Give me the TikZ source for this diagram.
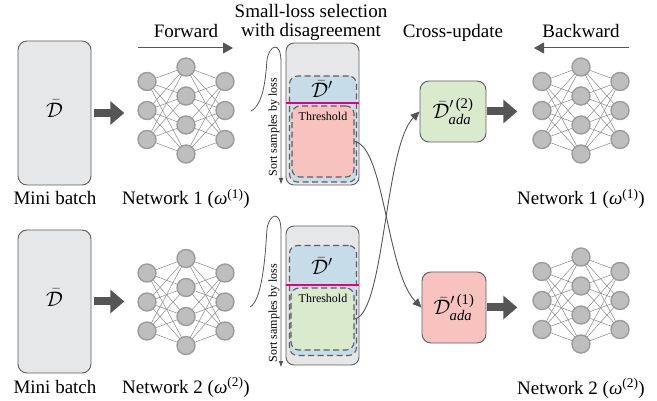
\RequirePackage{fix-cm}
\documentclass[tikz,border=0pt]{standalone}
\usepackage{amsmath}
\usepackage{fontspec}
\setmainfont{Liberation Serif}
\usetikzlibrary{arrows.meta}
\pgfdeclarelayer{bg}
\pgfsetlayers{bg,main}

\definecolor{boxgray}{HTML}{E6E7E9}
\definecolor{linegray}{HTML}{5E5E5E}
\definecolor{arrowgray}{HTML}{555555}
\definecolor{neurfill}{HTML}{BEBEBE}
\definecolor{neurline}{HTML}{9C9C9C}
\definecolor{edgegray}{HTML}{8A8A8A}
\definecolor{poolblue}{HTML}{C7DCE9}
\definecolor{keeppink}{HTML}{F8C3BE}
\definecolor{keepgreen}{HTML}{D9EACD}
\definecolor{cutline}{HTML}{E4007F}

\tikzset{
  lbl/.style={font=\fontsize{19}{19}\selectfont, inner sep=0pt},
  mathlbl/.style={font=\fontsize{21}{21}\selectfont, inner sep=0pt},
  small/.style={font=\fontsize{12}{12}\selectfont, inner sep=0pt},
  batchbox/.style={draw=linegray, fill=boxgray, rounded corners=9pt, line width=0.9pt, inner sep=0pt},
  adabox/.style={draw=linegray, rounded corners=9pt, line width=0.9pt, inner sep=0pt,
    font=\fontsize{21}{21}\selectfont},
  poolbox/.style={draw=linegray, fill=poolblue, dash pattern=on 6pt off 3.5pt,
    line width=1.1pt, rounded corners=8pt, inner sep=0pt},
  neuron/.style={circle, draw=neurline, fill=neurfill, line width=1.4pt, minimum size=18pt, inner sep=0pt},
  synapse/.style={draw=edgegray, line width=0.5pt},
  fatarrow/.style={draw=arrowgray, line width=8pt, -{Triangle[length=14pt,width=23pt]}},
  thinarrow/.style={draw=arrowgray, line width=1pt, -{Triangle[length=10pt,width=11pt]}},
  crossarrow/.style={draw=arrowgray, line width=0.9pt, -{Triangle[length=9pt,width=8pt]}},
  sortarrow/.style={draw=arrowgray, line width=0.8pt, -{Triangle[length=6pt,width=4pt]}},
  threshold/.style={draw=cutline, line width=2pt},
}

% three-four-three fully connected network, centred at (#2,#3)
\newcommand{\mlpnet}[3]{%
  \foreach \i/\dy in {1/-29,2/0,3/29} {
    \node[neuron] (#1-l\i) at ({#2-39},{#3+(\dy)}) {};
    \node[neuron] (#1-r\i) at ({#2+39},{#3+(\dy)}) {};
  }
  \foreach \i/\dy in {1/-43.5,2/-14.5,3/14.5,4/43.5} {
    \node[neuron] (#1-m\i) at ({#2},{#3+(\dy)}) {};
  }
  \begin{pgfonlayer}{bg}
    \foreach \a in {1,2,3} {
      \foreach \b in {1,2,3,4} {
        \draw[synapse] (#1-l\a.center) -- (#1-m\b.center);
        \draw[synapse] (#1-m\b.center) -- (#1-r\a.center);
      }
    }
  \end{pgfonlayer}
}

\begin{document}
\begin{tikzpicture}[x=1pt,y=-1pt]
\useasboundingbox (0,0) rectangle (657,401);

% ---------- headings ----------
\node[lbl, anchor=base] (fwdtxt) at (186,38) {Forward};
\node[lbl, anchor=base] (seltxt1) at (311,18) {Small-loss selection};
\node[lbl, anchor=base] (seltxt2) at (311,37) {with disagreement};
\node[lbl, anchor=base] (crosstxt) at (453,38) {Cross-update};
\node[lbl, anchor=base] (bwdtxt) at (581,38) {Backward};
\coordinate (fwdS) at (138,48);
\coordinate (fwdE) at (233,48);
\coordinate (bwdS) at (629,48);
\coordinate (bwdE) at (534,48);
\draw[thinarrow] (fwdS) -- (fwdE);
\draw[thinarrow] (bwdS) -- (bwdE);

% ---------- mini batches ----------
\node[batchbox, minimum width=73pt, minimum height=144pt] (mb1) at (54.5,113) {};
\node[batchbox, minimum width=73pt, minimum height=143pt] (mb2) at (54.5,301.5) {};
\node[mathlbl] (mbd1) at (54.5,108.5) {$\bar{\mathcal{D}}$};
\node[mathlbl] (mbd2) at (54.5,297.5) {$\bar{\mathcal{D}}$};
\node[lbl, anchor=base] (mbt1) at (55,205) {Mini batch};
\node[lbl, anchor=base] (mbt2) at (55,393) {Mini batch};

% ---------- networks ----------
\mlpnet{na}{186}{110.5}
\mlpnet{nb}{186}{302}
\mlpnet{nc}{581}{110.5}
\mlpnet{nd}{581}{300.5}
\node[lbl, anchor=base] (nat) at (186,205) {Network 1 (\textit{ω}\textsuperscript{(1)})};
\node[lbl, anchor=base] (nbt) at (186,393) {Network 2 (\textit{ω}\textsuperscript{(2)})};
\node[lbl, anchor=base] (nct) at (581,205) {Network 1 (\textit{ω}\textsuperscript{(1)})};
\node[lbl, anchor=base] (ndt) at (581,394) {Network 2 (\textit{ω}\textsuperscript{(2)})};

\draw[fatarrow, shorten <=3pt, shorten >=13pt] (mb1.east) -- (mb1.east -| na-l2.west);
\draw[fatarrow, shorten <=3pt, shorten >=13pt] (mb2.east) -- (mb2.east -| nb-l2.west);

% ---------- small-loss selection, network 1 ----------
\node[batchbox, rounded corners=8pt, minimum width=73pt, minimum height=142pt] (sel1) at (322.5,114) {};
\node[poolbox, minimum width=67pt, minimum height=106pt] (pool1) at (323,129) {};
\node[poolbox, fill=keeppink, minimum width=62pt, minimum height=71pt] (keep1) at (323,141.5) {};
\coordinate (cut1) at (322.5,103);
\draw[threshold] (cut1 -| sel1.west) -- (cut1 -| sel1.east);
\node[mathlbl] (pd1) at (322,89) {$\bar{\mathcal{D}}'$};
\node[small, anchor=base] (thr1) at (323,121) {Threshold};
\coordinate (sortA1) at (251,111);
\coordinate (sortB1) at (281,184);
\draw[sortarrow] (sortA1) .. controls (265,104) and (266,70) .. (267,60)
  .. controls (269,45) and (281,40) .. (281,62) -- (sortB1);
\node[small, rotate=90] (sortt1) at (274,127) {Sort samples by loss};

% ---------- small-loss selection, network 2 ----------
\node[batchbox, rounded corners=8pt, minimum width=73pt, minimum height=139pt] (sel2) at (322.5,295.5) {};
\node[poolbox, minimum width=67pt, minimum height=110pt] (pool2) at (323,300.5) {};
\node[poolbox, fill=keepgreen, minimum width=63pt, minimum height=62pt] (keep2) at (322.5,319) {};
\coordinate (cut2) at (322.5,285);
\draw[threshold] (cut2 -| sel2.west) -- (cut2 -| sel2.east);
\node[mathlbl] (pd2) at (322,266) {$\bar{\mathcal{D}}'$};
\node[small, anchor=base] (thr2) at (323,302) {Threshold};
\coordinate (sortA2) at (250,307);
\coordinate (sortB2) at (281,367);
\draw[sortarrow] (sortA2) .. controls (264,300) and (266,240) .. (267,229)
  .. controls (269,214) and (281,209) .. (281,231) -- (sortB2);
\node[small, rotate=90] (sortt2) at (274,313) {Sort samples by loss};

% ---------- cross-update ----------
\node[adabox, fill=keepgreen, minimum width=66pt, minimum height=61pt] (ada2) at (453,111.5)
  {$\bar{\mathcal{D}}'^{\,\text{(2)}}_{\textit{ada}}$};
\node[adabox, fill=keeppink, minimum width=64pt, minimum height=71pt] (ada1) at (454,307.5)
  {$\bar{\mathcal{D}}'^{\,\text{(1)}}_{\textit{ada}}$};
\draw[crossarrow] (keep1.east) .. controls +(30,5) and +(-35,-35) .. (ada1.west);
\draw[crossarrow] (keep2.east) .. controls +(30,-5) and +(-35,35) .. (ada2.west);
\draw[fatarrow, shorten <=1pt, shorten >=15pt] (ada2.east) -- (ada2.east -| nc-l2.west);
\draw[fatarrow, shorten <=1pt, shorten >=15pt] (ada1.east) -- (ada1.east -| nd-l2.west);
\end{tikzpicture}
\end{document}
